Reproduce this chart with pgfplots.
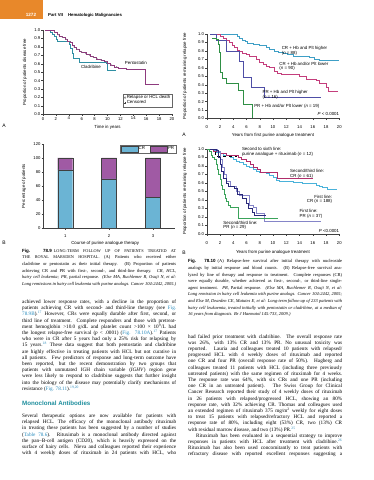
\documentclass[border=0pt]{standalone}
\usepackage{pgfplots}
\pgfplotsset{compat=1.18}
\usepackage{graphicx}
\usepackage{fontspec}
\setmainfont{Liberation Serif}
\newfontfamily\sans{Liberation Sans}
\definecolor{orng}{HTML}{E8882A}
\definecolor{cladr}{HTML}{2F8FA3}
\definecolor{pento}{HTML}{8E3A7E}
\definecolor{crhi}{HTML}{3E9FC6}
\definecolor{crlo}{HTML}{C43E7C}
\definecolor{prhi}{HTML}{4E4EA6}
\definecolor{prlo}{HTML}{2F8F45}
\definecolor{crfirst}{HTML}{4AB2DA}
\definecolor{crsec}{HTML}{B02D6A}
\definecolor{prfirst}{HTML}{8585C8}
\definecolor{prnavy}{HTML}{2A2A7A}
\definecolor{prsec}{HTML}{3AA35A}
\definecolor{barcr}{HTML}{6BB4D4}
\definecolor{barpr}{HTML}{A05AA4}
\definecolor{headteal}{HTML}{1F8F9E}
\definecolor{linkc}{HTML}{2A8CBE}
\newcommand\bodyf{\fontsize{5.2}{6}\selectfont}
\newcommand\capf{\fontsize{4.5}{5}\selectfont}
\newcommand\capsc{\fontsize{4.25}{5}\selectfont}
\newcommand\chf{\sans\fontsize{4.4}{5}\selectfont}
\newcommand\rf[1]{\textsuperscript{\color{linkc}#1}}
\newcommand\lk[1]{{\color{linkc}#1}}
\newsavebox\lbox
\newcommand\JL[4]{\sbox\lbox{#1#4}%
  \ifdim\wd\lbox>154pt
    \node[anchor=base west,inner sep=0pt] at (#2pt,#3pt) {\resizebox{154pt}{\height}{\usebox\lbox}};%
  \else
    \node[anchor=base west,inner sep=0pt] at (#2pt,#3pt) {#1\hbox to 154pt{#4}};%
  \fi}
\newcommand\BL[3]{\JL{\bodyf}{#1}{#2}{#3}}
\newcommand\CL[3]{\JL{\capf}{#1}{#2}{#3}}
\newcommand\BLL[3]{\node[anchor=base west,inner sep=0pt] at (#1pt,#2pt) {\bodyf #3};}
\newcommand\CLL[3]{\node[anchor=base west,inner sep=0pt] at (#1pt,#2pt) {\capf #3};}
\pgfplotsset{
 base/.style={scale only axis, anchor=south west, axis x line*=bottom, axis y line*=left,
   axis line style={-, draw=black!75, line width=0.35pt},
   every tick/.style={draw=black!75, line width=0.3pt},
   tick align=outside, major tick length=1.6pt,
   tick label style={font=\sans\fontsize{4.2}{5}\selectfont, inner sep=1pt},
   label style={font=\chf},
   /pgf/number format/assume math mode=true,
   clip=false},
 km/.style={base, xmin=0, xmax=20, ymin=0, ymax=1, xtick={0,2,...,20},
   ytick={0,0.1,0.2,0.3,0.4,0.5,0.6,0.7,0.8,0.9,1},
   yticklabel style={/pgf/number format/.cd, fixed, fixed zerofill, precision=1}},
 kmline/.style={const plot, line width=0.75pt, forget plot},
}
\begin{document}
\begin{tikzpicture}
\useasboundingbox (0,0) rectangle (374pt,480pt);
\fill[white] (0,0) rectangle (374pt,480pt);
% header
\fill[orng] (0pt,461pt) rectangle (43pt,480pt);
\node[text=white,font=\sans\bfseries\fontsize{4.6}{5}\selectfont] at (31pt,465pt) {1272};
\node[anchor=base west,inner sep=0pt,font=\sans\bfseries\fontsize{4.3}{5}\selectfont] at (48pt,463.4pt) {Part VII\hspace{5pt}Hematologic Malignancies};
% panel letters
\node[font=\sans\fontsize{5}{6}\selectfont] at (4pt,354pt) {A};
\node[font=\sans\fontsize{5}{6}\selectfont] at (184pt,345pt) {A};
\node[font=\sans\fontsize{5}{6}\selectfont] at (4pt,237pt) {B};
\node[font=\sans\fontsize{5}{6}\selectfont] at (184pt,227.5pt) {B};

% ---------- Panel A (left top)
\begin{axis}[km, at={(43pt,365.7pt)}, width=129pt, height=84.3pt,
  xlabel={Time in years}, ylabel={Proportion of patients disease free},
  xlabel style={at={(axis description cs:0.5,-0.15)}, anchor=center},
  ylabel style={at={(axis description cs:-0.14,0.5)}, anchor=center},
  legend style={at={(axis cs:20,0.086)}, anchor=south east, draw=black!60, line width=0.3pt,
    font=\chf, inner sep=0.8pt, nodes={inner sep=0.7pt}, row sep=-0.6pt},
  legend cell align=left]
\addlegendimage{only marks, mark=o, mark size=0.9pt, black!60, line width=0.3pt}
\addlegendentry{Relapse or HCL death}
\addlegendimage{only marks, mark=+, mark size=1pt, black!75, line width=0.3pt}
\addlegendentry{Censored}
\addplot[kmline, cladr] coordinates {(0.3,1.0)(1.2,0.97)(1.5,0.95)(1.7,0.92)(2.0,0.89)(2.3,0.86)(4.1,0.83)(4.3,0.78)(4.5,0.72)(4.7,0.66)(5.6,0.62)(9.9,0.60)(10.0,0.52)(11.3,0.52)};
\addplot[kmline, pento] coordinates {(0.3,1.0)(1.5,0.99)(1.8,0.97)(2.2,0.95)(2.6,0.93)(3.0,0.91)(3.4,0.89)(3.8,0.87)(4.2,0.85)(4.5,0.82)(4.8,0.79)(5.2,0.77)(5.6,0.75)(6.0,0.73)(6.8,0.71)(7.3,0.69)(7.8,0.67)(8.3,0.65)(9.0,0.64)(9.5,0.63)(10.0,0.60)(10.5,0.58)(11.0,0.56)(11.7,0.55)(12.6,0.54)(13.0,0.53)(15.8,0.53)(15.8,0.35)(18.0,0.35)};
\addplot[only marks, mark=o, mark size=0.5pt, black!45, line width=0.2pt, forget plot] coordinates {(1.8,0.975)(2.4,0.945)(3.0,0.915)(3.6,0.89)(4.2,0.86)(4.8,0.80)(5.4,0.77)(6.0,0.74)(6.6,0.72)(7.2,0.70)(7.8,0.68)(8.4,0.66)(9.0,0.645)(9.8,0.62)(10.6,0.585)(11.4,0.565)};
\node[font=\chf] at (axis cs:14.4,0.605) {Pentostatin};
\node[font=\chf] at (axis cs:7.44,0.561) {Cladribine};
\end{axis}

% ---------- Panel B (right top)
\begin{axis}[km, at={(206.7pt,361.5pt)}, width=132.6pt, height=84.5pt,
  xticklabel style={yshift=-4pt},
  xlabel={Years from first purine analogue treatment},
  ylabel={Proportion of patients remaining relapse free},
  xlabel style={at={(axis description cs:0.5,-0.195)}, anchor=center},
  ylabel style={at={(axis description cs:-0.164,0.5)}, anchor=center}]
\addplot[kmline, crhi] coordinates {(0.5,1)(4.2,0.99)(4.6,0.97)(5.0,0.95)(5.4,0.93)(5.8,0.91)(6.2,0.89)(7.0,0.88)(8.0,0.87)(8.6,0.86)(9.0,0.84)(9.5,0.82)(10.2,0.80)(10.8,0.78)(11.5,0.77)(12.2,0.76)(13.0,0.74)(14.5,0.73)(15.5,0.72)(16.2,0.70)(17.0,0.69)(19.9,0.69)};
\addplot[kmline, crlo] coordinates {(0.5,1)(1.5,0.99)(2.0,0.97)(2.5,0.95)(3.0,0.93)(3.4,0.90)(3.8,0.87)(4.2,0.84)(4.6,0.81)(5.0,0.79)(5.4,0.77)(6.0,0.76)(6.5,0.74)(7.0,0.73)(7.5,0.70)(8.0,0.66)(8.5,0.64)(9.0,0.62)(9.5,0.61)(10.2,0.56)(10.6,0.53)(11.2,0.52)(13.5,0.52)(14.0,0.50)(15.0,0.46)(16.5,0.45)(17.0,0.42)(18.1,0.37)(18.3,0.32)(19.7,0.31)};
\addplot[kmline, prhi] coordinates {(0.5,1)(1.5,0.93)(3.0,0.79)(4.9,0.68)(5.5,0.49)(6.7,0.37)(8.7,0.25)(17.2,0.25)};
\addplot[kmline, prlo] coordinates {(0.8,0.95)(1.5,0.94)(1.7,0.88)(1.9,0.78)(2.0,0.65)(2.1,0.55)(2.3,0.47)(3.0,0.41)(4.8,0.33)(5.6,0.17)(6.9,0.0)(6.9,0.0)};
\begin{scope}[every node/.style={font=\chf, inner sep=0pt}]
\node[anchor=west] at (axis cs:11.3,0.826) {CR + Hb and Plt higher};
\node[anchor=west] at (axis cs:11.3,0.775) {(\textit{n} = 88)};
\node[anchor=west] at (axis cs:10.95,0.645) {CR + Hb and/or Plt lower};
\node[anchor=west] at (axis cs:10.95,0.59) {(\textit{n} = 90)};
\node[anchor=west] at (axis cs:8.4,0.31) {PR + Hb and Plt higher};
\node[anchor=west] at (axis cs:8.4,0.25) {(\textit{n} = 16)};
\node[anchor=west] at (axis cs:7.15,0.148) {PR + Hb and/or Plt lower (\textit{n} = 19)};
\node[anchor=east] at (axis cs:20,0.05) {\textit{P} < 0.0001};
\end{scope}
\end{axis}

% ---------- Panel C (left bottom) bars
\begin{axis}[base, at={(43.3pt,252pt)}, width=131.7pt, height=84pt,
  ybar stacked, bar width=15pt, xmin=0.5, xmax=3.5, ymin=0, ymax=120,
  xtick={1,2,3}, ytick={0,20,40,60,80,100,120},
  xticklabel style={yshift=-3.5pt},
  xlabel={Course of purine analogue therapy}, ylabel={Percentage of patients},
  xlabel style={at={(axis description cs:0.47,-0.179)}, anchor=center},
  ylabel style={at={(axis description cs:-0.147,0.5)}, anchor=center},
  area legend,
  legend style={at={(rel axis cs:1.007,0.988)}, anchor=north east, legend columns=2,
    draw=black!60, line width=0.3pt, font=\chf, inner sep=0.8pt, nodes={inner sep=0.8pt},
    /tikz/every even column/.append style={column sep=4pt}}]
\addplot[fill=barcr, draw=black!75, line width=0.3pt] coordinates {(1,83)(2,70)(3,44)};
\addlegendentry{CR}
\addplot[fill=barpr, draw=black!75, line width=0.3pt] coordinates {(1,17)(2,30)(3,56)};
\addlegendentry{PR}
\end{axis}

% ---------- Panel D (right bottom)
\begin{axis}[km, at={(206.7pt,246pt)}, width=132.6pt, height=85pt,
  xticklabel style={yshift=-5pt},
  xlabel={Years from purine analogue treatment},
  ylabel={Proportion of patients remaining relapse free},
  xlabel style={at={(axis description cs:0.5,-0.218)}, anchor=center},
  ylabel style={at={(axis description cs:-0.164,0.5)}, anchor=center}]
\addplot[kmline, crfirst] coordinates {(0,1)(0.5,0.99)(1.0,0.98)(1.5,0.96)(2.0,0.95)(2.5,0.93)(3.0,0.92)(3.5,0.90)(4.0,0.88)(4.5,0.86)(5.0,0.84)(5.5,0.82)(6.0,0.80)(6.5,0.78)(7.0,0.76)(7.5,0.74)(8.0,0.73)(8.5,0.72)(9.0,0.71)(9.5,0.69)(10.0,0.67)(10.5,0.63)(11.0,0.62)(12.0,0.62)(13.0,0.61)(14.5,0.60)(15.5,0.59)(16.5,0.57)(17.0,0.56)(17.5,0.55)(18.2,0.53)(18.7,0.52)(19.7,0.52)};
\addplot[kmline, crsec] coordinates {(0,1)(1.0,0.97)(2.0,0.95)(3.0,0.93)(4.8,0.90)(5.2,0.88)(6.0,0.85)(6.6,0.82)(7.0,0.78)(7.6,0.76)(8.1,0.73)(10.7,0.65)(16.0,0.65)};
\addplot[kmline, black, line width=0.4pt, dashed] coordinates {(0,1)(1.3,0.91)(4.6,0.91)};
\addplot[kmline, prfirst] coordinates {(0,1)(1.6,0.97)(2.0,0.88)(2.3,0.78)(2.6,0.70)(3.0,0.62)(3.5,0.56)(4.5,0.50)(5.0,0.46)(6.0,0.45)(6.4,0.34)(7.0,0.31)(7.5,0.24)(8.7,0.15)(17.2,0.15)};
\addplot[kmline, prnavy, line width=0.55pt] coordinates {(0,1)(1.5,0.98)(1.8,0.90)(2.0,0.82)(2.2,0.74)(2.5,0.66)(2.9,0.60)(3.3,0.56)(4.1,0.54)(4.6,0.47)(5.3,0.42)(5.9,0.36)(6.3,0.30)(6.8,0.26)(7.2,0.22)(9.0,0.22)};
\addplot[kmline, prsec] coordinates {(0,1)(0.4,0.97)(0.7,0.93)(0.9,0.90)(1.2,0.88)(1.4,0.82)(1.6,0.76)(1.8,0.70)(2.0,0.64)(2.2,0.57)(2.4,0.52)(2.6,0.47)(2.8,0.42)(3.0,0.38)(3.3,0.34)(3.6,0.31)(4.8,0.18)(10.8,0.18)};
\begin{scope}[every node/.style={font=\chf, inner sep=0pt}]
\node[anchor=west] at (axis cs:5.3,1.0) {Second to sixth line:};
\node[anchor=west] at (axis cs:5.3,0.937) {purine analogue + rituximab (\textit{n} = 12)};
\node[anchor=west] at (axis cs:12.56,0.74) {Second/third line:};
\node[anchor=west] at (axis cs:12.56,0.68) {CR (\textit{n} = 61)};
\node[anchor=east] at (axis cs:18.95,0.44) {First line:};
\node[anchor=east] at (axis cs:18.95,0.38) {CR (\textit{n} = 188)};
\node[anchor=west] at (axis cs:14.0,0.27) {First line:};
\node[anchor=west] at (axis cs:14.0,0.21) {PR (\textit{n} = 37)};
\node[anchor=west] at (axis cs:2.5,0.13) {Second/third line:};
\node[anchor=west] at (axis cs:2.5,0.075) {PR (\textit{n} = 29)};
\node[anchor=east] at (axis cs:20,0.04) {\textit{P} <0.0001};
\end{scope}
\end{axis}

% ---------- captions
\CL{22}{227.6}{{\sans\bfseries Fig. 78.9}\kern2pt {\capsc LONG-TERM FOLLOW UP OF PATIENTS TREATED AT}}
\CL{22}{221.0}{{\capsc THE ROYAL MARSDEN HOSPITAL.} (A) Patients who received either}
\CL{22}{214.4}{cladribine or pentostatin as their initial therapy. (B) Proportion of patients}
\CL{22}{207.8}{achieving CR and PR with first-, second-, and third-line therapy. \textit{CR, HCL,}}
\CL{22}{201.2}{\textit{hairy cell leukemia; PR,} partial response. \textit{(Else MA, Ruchlemer R, Osuji N, et al:}}
\CL{22}{194.6}{\textit{Long remissions in hairy cell leukemia with purine analogs. Cancer 104:2442, 2005.)}}

\CL{188}{217.1}{{\sans\bfseries Fig. 78.10}\kern2pt (A) Relapse-free survival after initial therapy with nucleoside}
\CL{188}{210.5}{analogs by initial response and blood counts. (B) Relapse-free survival ana-}
\CL{188}{203.9}{lyzed by line of therapy and response to treatment. Complete responses (CR)}
\CL{188}{197.3}{were equally durable, whether achieved as first-, second-, or third-line single-}
\CL{188}{190.7}{agent treatment. \textit{PR,} Partial response. \textit{(Else MA, Ruchlemer R, Osuji N, et al:}}
\CL{188}{184.1}{\textit{Long remission in hairy cell leukemia with purine analogs. Cancer 104:2442, 2005;}}
\CL{188}{177.5}{\textit{and Else M, Dearden CE, Matutes E, et al: Long-term follow-up of 233 patients with}}
\CL{188}{170.9}{\textit{hairy cell leukaemia, treated initially with pentostatin or cladribine, at a median of}}
\CLL{188}{164.3}{\textit{16 years from diagnosis. Br J Haematol 145:733, 2009.)}}

% ---------- left body
\BL{22}{176.4}{achieved lower response rates, with a decline in the proportion of}
\BL{22}{170.2}{patients achieving CR with second- and third-line therapy (see \lk{Fig.}}
\BL{22}{164.0}{\lk{78.9B}).\rf{17} However, CRs were equally durable after first, second, or}
\BL{22}{157.8}{third line of treatment. Complete responders and those with pretreat-}
\BL{22}{151.6}{ment hemoglobin >10.0 g/dL and platelet count >100 × 10\textsuperscript{9}/L had}
\BL{22}{145.4}{the longest relapse-free survival (\textit{p} < .0001) (\lk{Fig. 78.10A}).\rf{17} Patients}
\BL{22}{139.2}{who were in CR after 5 years had only a 25\% risk for relapsing by}
\BL{22}{133.0}{15 years.\rf{18} These data suggest that both pentostatin and cladribine}
\BL{22}{126.8}{are highly effective in treating patients with HCL but not curative in}
\BL{22}{120.6}{all patients. Few predictors of response and long-term outcome have}
\BL{22}{114.4}{been reported, but the recent demonstration by two groups that}
\BL{22}{108.2}{patients with unmutated IGH chain variable (\textit{IGHV}) region gene}
\BL{22}{102.0}{were less likely to respond to cladribine suggests that further insight}
\BL{22}{95.8}{into the biology of the disease may potentially clarify mechanisms of}
\BLL{22}{89.6}{resistance (\lk{Fig. 78.11}).\rf{19,20}}

\node[anchor=base west,inner sep=0pt,text=headteal,font=\sans\bfseries\fontsize{6.2}{7}\selectfont] at (22pt,74.5pt) {Monoclonal Antibodies};

\BL{22}{62.4}{Several therapeutic options are now available for patients with}
\BL{22}{56.2}{relapsed HCL. The efficacy of the monoclonal antibody rituximab}
\BL{22}{50.0}{in treating these patients has been suggested by a number of studies}
\BL{22}{43.8}{(\lk{Table 78.6}). Rituximab is a monoclonal antibody directed against}
\BL{22}{37.6}{the pan–B-cell antigen (CD20), which is heavily expressed on the}
\BL{22}{31.4}{surface of hairy cells. Nieva and colleagues reported their experience}
\BL{22}{25.2}{with 4 weekly doses of rituximab in 24 patients with HCL, who}

% ---------- right body
\BL{188}{141.9}{had failed prior treatment with cladribine. The overall response rate}
\BL{188}{135.7}{was 26\%, with 13\% CR and 13\% PR. No unusual toxicity was}
\BL{188}{129.5}{reported. Lauria and colleagues treated 10 patients with relapsed/}
\BL{188}{123.3}{progressed HCL with 4 weekly doses of rituximab and reported}
\BL{188}{117.1}{one CR and four PR (overall response rate of 50\%). Hagberg and}
\BL{188}{110.9}{colleagues treated 11 patients with HCL (including three previously}
\BL{188}{104.7}{untreated patients) with the same regimen of rituximab for 4 weeks.}
\BL{188}{98.5}{The response rate was 64\%, with six CRs and one PR (including}
\BL{188}{92.3}{one CR in an untreated patient). The Swiss Group for Clinical}
\BL{188}{86.1}{Cancer Research reported their study of 4 weekly doses of rituximab}
\BL{188}{79.9}{in 26 patients with relapsed/progressed HCL, showing an 80\%}
\BL{188}{73.7}{response rate, with 32\% achieving CR. Thomas and colleagues used}
\BL{188}{67.5}{an extended regimen of rituximab 375 mg/m\textsuperscript{2} weekly for eight doses}
\BL{188}{61.3}{to treat 15 patients with relapsed/refractory HCL and reported a}
\BL{188}{55.1}{response rate of 80\%, including eight (53\%) CR, two (13\%) CR}
\BLL{188}{48.9}{with residual marrow disease, and two (13\%) PR.\rf{25}}
\BL{188}{42.7}{\kern8pt Rituximab has been evaluated in a sequential strategy to improve}
\BL{188}{36.5}{responses in patients with HCL after treatment with cladribine.\rf{26}}
\BL{188}{30.3}{Rituximab has also been used concomitantly to treat patients with}
\BL{188}{24.1}{refractory disease with reported excellent responses suggesting a}
\end{tikzpicture}
\end{document}
